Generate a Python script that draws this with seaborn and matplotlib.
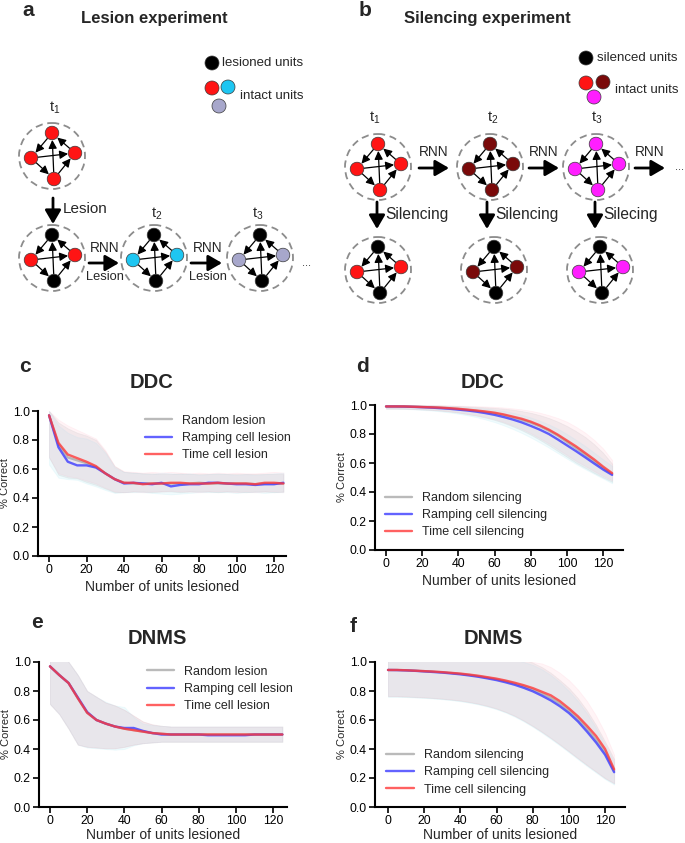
import matplotlib
matplotlib.use('Agg')
import matplotlib.pyplot as plt
from matplotlib.patches import Circle
import seaborn as sns
import pandas as pd

# ---- data ----
units = [0, 5, 10, 15, 20, 25, 30, 35, 40, 45, 50, 55, 60, 65, 70, 75, 80, 85, 90, 95, 100, 105, 110, 115, 120, 125]

# c: DDC, lesion
c_random = [0.97, 0.77, 0.68, 0.66, 0.64, 0.615, 0.57, 0.53, 0.505, 0.50, 0.50, 0.50, 0.50, 0.50, 0.50, 0.50, 0.505, 0.50, 0.50, 0.50, 0.50, 0.50, 0.495, 0.50, 0.50, 0.50]
c_ramping = [0.97, 0.75, 0.65, 0.625, 0.625, 0.61, 0.57, 0.53, 0.50, 0.505, 0.50, 0.495, 0.505, 0.48, 0.49, 0.495, 0.495, 0.505, 0.505, 0.50, 0.495, 0.495, 0.49, 0.495, 0.495, 0.505]
c_time = [0.97, 0.78, 0.70, 0.675, 0.65, 0.62, 0.57, 0.53, 0.505, 0.505, 0.495, 0.50, 0.50, 0.505, 0.505, 0.50, 0.50, 0.50, 0.505, 0.50, 0.50, 0.50, 0.495, 0.505, 0.505, 0.50]
c_random_lo = [0.68, 0.56, 0.54, 0.535, 0.51, 0.49, 0.465, 0.44, 0.44, 0.445, 0.445, 0.44, 0.445, 0.445, 0.44, 0.445, 0.445, 0.445, 0.44, 0.445, 0.445, 0.44, 0.445, 0.445, 0.44, 0.445]
c_random_hi = [1.0, 0.92, 0.88, 0.85, 0.83, 0.80, 0.72, 0.62, 0.58, 0.575, 0.57, 0.57, 0.565, 0.565, 0.57, 0.565, 0.565, 0.565, 0.565, 0.565, 0.565, 0.565, 0.565, 0.565, 0.565, 0.565]
c_ramping_lo = [0.63, 0.54, 0.53, 0.525, 0.50, 0.48, 0.455, 0.435, 0.44, 0.44, 0.44, 0.435, 0.43, 0.425, 0.43, 0.435, 0.44, 0.44, 0.44, 0.44, 0.435, 0.44, 0.44, 0.435, 0.44, 0.44]
c_ramping_hi = [1.0, 0.90, 0.85, 0.82, 0.81, 0.78, 0.71, 0.61, 0.58, 0.575, 0.57, 0.565, 0.575, 0.57, 0.565, 0.57, 0.56, 0.565, 0.57, 0.565, 0.56, 0.565, 0.56, 0.565, 0.57, 0.575]
c_time_lo = [0.68, 0.57, 0.55, 0.54, 0.52, 0.50, 0.47, 0.445, 0.44, 0.445, 0.44, 0.445, 0.445, 0.45, 0.445, 0.445, 0.44, 0.445, 0.445, 0.445, 0.44, 0.445, 0.44, 0.445, 0.445, 0.44]
c_time_hi = [1.0, 0.94, 0.90, 0.87, 0.84, 0.81, 0.73, 0.62, 0.585, 0.58, 0.575, 0.58, 0.575, 0.58, 0.575, 0.57, 0.575, 0.57, 0.575, 0.57, 0.575, 0.57, 0.57, 0.575, 0.58, 0.575]

# d: DDC, silencing
d_random = [0.99, 0.99, 0.99, 0.988, 0.986, 0.984, 0.981, 0.977, 0.972, 0.966, 0.959, 0.951, 0.942, 0.93, 0.915, 0.898, 0.878, 0.853, 0.823, 0.788, 0.745, 0.703, 0.658, 0.612, 0.565, 0.525]
d_ramping = [0.99, 0.99, 0.989, 0.987, 0.985, 0.982, 0.978, 0.974, 0.968, 0.962, 0.954, 0.944, 0.932, 0.917, 0.90, 0.88, 0.856, 0.83, 0.80, 0.762, 0.722, 0.682, 0.64, 0.597, 0.555, 0.518]
d_time = [0.99, 0.99, 0.99, 0.988, 0.986, 0.984, 0.982, 0.978, 0.974, 0.968, 0.962, 0.955, 0.947, 0.935, 0.92, 0.905, 0.885, 0.86, 0.83, 0.795, 0.755, 0.715, 0.67, 0.625, 0.575, 0.53]
d_random_lo = [0.975, 0.975, 0.974, 0.972, 0.969, 0.966, 0.961, 0.955, 0.947, 0.937, 0.926, 0.913, 0.897, 0.877, 0.853, 0.826, 0.795, 0.76, 0.722, 0.682, 0.642, 0.602, 0.567, 0.532, 0.50, 0.47]
d_random_hi = [1.0, 1.0, 1.0, 1.0, 0.999, 0.998, 0.997, 0.995, 0.993, 0.99, 0.987, 0.984, 0.98, 0.975, 0.968, 0.958, 0.946, 0.93, 0.91, 0.885, 0.855, 0.82, 0.78, 0.73, 0.67, 0.595]
d_ramping_lo = [0.975, 0.974, 0.973, 0.97, 0.966, 0.962, 0.956, 0.949, 0.94, 0.929, 0.916, 0.90, 0.882, 0.86, 0.835, 0.807, 0.776, 0.742, 0.706, 0.668, 0.63, 0.593, 0.558, 0.525, 0.493, 0.46]
d_ramping_hi = [1.0, 1.0, 1.0, 0.999, 0.998, 0.997, 0.995, 0.993, 0.99, 0.986, 0.981, 0.975, 0.968, 0.959, 0.947, 0.932, 0.914, 0.892, 0.866, 0.836, 0.80, 0.76, 0.718, 0.672, 0.625, 0.58]
d_time_lo = [0.975, 0.975, 0.975, 0.973, 0.97, 0.967, 0.963, 0.957, 0.95, 0.94, 0.93, 0.918, 0.903, 0.883, 0.86, 0.835, 0.805, 0.77, 0.735, 0.695, 0.655, 0.615, 0.58, 0.545, 0.51, 0.48]
d_time_hi = [1.0, 1.0, 1.0, 1.0, 1.0, 0.999, 0.998, 0.997, 0.996, 0.994, 0.992, 0.99, 0.987, 0.983, 0.977, 0.97, 0.96, 0.947, 0.93, 0.91, 0.885, 0.85, 0.81, 0.76, 0.70, 0.62]

# e: DNMS, lesion
e_random = [0.97, 0.91, 0.855, 0.75, 0.65, 0.60, 0.575, 0.555, 0.54, 0.53, 0.52, 0.51, 0.505, 0.50, 0.50, 0.50, 0.50, 0.50, 0.50, 0.50, 0.50, 0.50, 0.50, 0.50, 0.50, 0.50]
e_ramping = [0.97, 0.91, 0.855, 0.755, 0.655, 0.60, 0.575, 0.555, 0.545, 0.545, 0.525, 0.51, 0.50, 0.50, 0.50, 0.50, 0.50, 0.495, 0.495, 0.495, 0.495, 0.495, 0.50, 0.50, 0.50, 0.50]
e_time = [0.97, 0.91, 0.855, 0.75, 0.65, 0.60, 0.575, 0.555, 0.54, 0.53, 0.52, 0.51, 0.505, 0.50, 0.50, 0.50, 0.50, 0.50, 0.50, 0.50, 0.50, 0.50, 0.50, 0.50, 0.50, 0.50]
e_random_lo = [0.71, 0.64, 0.54, 0.43, 0.415, 0.41, 0.405, 0.405, 0.415, 0.43, 0.44, 0.445, 0.45, 0.45, 0.45, 0.45, 0.45, 0.45, 0.45, 0.45, 0.45, 0.45, 0.45, 0.45, 0.45, 0.45]
e_random_hi = [1.1, 1.1, 1.0, 0.91, 0.80, 0.76, 0.72, 0.70, 0.67, 0.63, 0.59, 0.57, 0.56, 0.555, 0.555, 0.555, 0.555, 0.555, 0.555, 0.555, 0.555, 0.555, 0.555, 0.555, 0.555, 0.555]
e_ramping_lo = [0.71, 0.64, 0.54, 0.43, 0.41, 0.405, 0.40, 0.395, 0.40, 0.425, 0.44, 0.445, 0.45, 0.45, 0.45, 0.45, 0.45, 0.45, 0.45, 0.45, 0.45, 0.45, 0.45, 0.45, 0.45, 0.45]
e_ramping_hi = [1.1, 1.1, 1.0, 0.91, 0.80, 0.76, 0.725, 0.70, 0.69, 0.62, 0.575, 0.565, 0.56, 0.555, 0.555, 0.555, 0.555, 0.555, 0.555, 0.555, 0.555, 0.555, 0.555, 0.555, 0.555, 0.555]
e_time_lo = [0.71, 0.64, 0.54, 0.43, 0.415, 0.41, 0.405, 0.405, 0.415, 0.43, 0.44, 0.445, 0.45, 0.45, 0.45, 0.45, 0.45, 0.45, 0.45, 0.45, 0.45, 0.45, 0.45, 0.45, 0.45, 0.45]
e_time_hi = [1.1, 1.1, 1.0, 0.91, 0.80, 0.76, 0.72, 0.70, 0.67, 0.63, 0.59, 0.57, 0.56, 0.555, 0.555, 0.555, 0.555, 0.555, 0.555, 0.555, 0.555, 0.555, 0.555, 0.555, 0.555, 0.555]

# f: DNMS, silencing
f_random = [0.945, 0.945, 0.943, 0.94, 0.937, 0.933, 0.929, 0.924, 0.918, 0.911, 0.902, 0.892, 0.881, 0.867, 0.851, 0.832, 0.81, 0.783, 0.753, 0.713, 0.665, 0.607, 0.54, 0.465, 0.38, 0.25]
f_ramping = [0.945, 0.944, 0.942, 0.939, 0.935, 0.931, 0.927, 0.921, 0.915, 0.907, 0.898, 0.887, 0.875, 0.86, 0.843, 0.822, 0.798, 0.768, 0.735, 0.695, 0.648, 0.59, 0.52, 0.445, 0.36, 0.24]
f_time = [0.945, 0.945, 0.943, 0.94, 0.937, 0.934, 0.93, 0.925, 0.92, 0.913, 0.905, 0.895, 0.885, 0.872, 0.857, 0.84, 0.82, 0.795, 0.77, 0.73, 0.68, 0.625, 0.56, 0.49, 0.40, 0.26]
f_random_lo = [0.763, 0.763, 0.761, 0.758, 0.755, 0.751, 0.746, 0.74, 0.733, 0.723, 0.711, 0.696, 0.678, 0.655, 0.628, 0.595, 0.558, 0.518, 0.475, 0.43, 0.383, 0.335, 0.288, 0.243, 0.198, 0.162]
f_random_hi = [1.13, 1.13, 1.12, 1.12, 1.12, 1.115, 1.11, 1.105, 1.1, 1.09, 1.08, 1.07, 1.06, 1.05, 1.035, 1.02, 0.995, 0.965, 0.925, 0.875, 0.82, 0.75, 0.665, 0.565, 0.45, 0.33]
f_ramping_lo = [0.76, 0.76, 0.758, 0.755, 0.752, 0.748, 0.743, 0.737, 0.729, 0.719, 0.707, 0.692, 0.674, 0.651, 0.623, 0.59, 0.553, 0.512, 0.469, 0.424, 0.377, 0.329, 0.282, 0.237, 0.192, 0.155]
f_ramping_hi = [1.13, 1.13, 1.12, 1.12, 1.115, 1.11, 1.105, 1.1, 1.09, 1.08, 1.07, 1.06, 1.05, 1.035, 1.02, 1.0, 0.98, 0.95, 0.91, 0.86, 0.80, 0.73, 0.645, 0.545, 0.43, 0.31]
f_time_lo = [0.765, 0.765, 0.763, 0.76, 0.757, 0.753, 0.748, 0.742, 0.735, 0.725, 0.713, 0.698, 0.68, 0.657, 0.63, 0.597, 0.56, 0.52, 0.477, 0.432, 0.385, 0.337, 0.29, 0.245, 0.20, 0.165]
f_time_hi = [1.13, 1.13, 1.12, 1.12, 1.12, 1.115, 1.11, 1.11, 1.1, 1.095, 1.09, 1.08, 1.07, 1.06, 1.045, 1.025, 1.0, 0.99, 0.965, 0.925, 0.875, 0.81, 0.73, 0.63, 0.51, 0.36]

lesion_labels = ["Random lesion", "Ramping cell lesion", "Time cell lesion"]
silencing_labels = ["Random silencing", "Ramping cell silencing", "Time cell silencing"]
line_colors = ["#a9a9a9", "#3c3cff", "#ff3a3a"]
band_colors = ["#a0a0a0", "#8fe2f2", "#ffaac0"]

# ---- style ----
sns.set_style('ticks')
plt.rcParams['font.family'] = ['Liberation Sans', 'DejaVu Sans']
plt.rcParams['mathtext.fontset'] = 'custom'
plt.rcParams['mathtext.rm'] = 'Liberation Sans'
plt.rcParams['mathtext.it'] = 'Liberation Sans'

W, H = 685, 843
fig = plt.figure(figsize=(W / 100, H / 100), dpi=100)

# full-figure canvas in pixel coordinates for schematics and labels
cv = fig.add_axes([0, 0, 1, 1])
cv.set_xlim(0, W)
cv.set_ylim(H, 0)
cv.axis('off')

RED, CYAN, SLATE = "#ff1414", "#1ec6f2", "#a7a7cb"
DRED, MAG, BLK = "#7a0a0a", "#ff1eff", "#000000"
OFFS = {'top': (0, -23), 'left': (-21, 2), 'right': (23, -3), 'bottom': (2, 23)}
EDGES = [('top', 'left'), ('right', 'top'), ('left', 'bottom'),
         ('bottom', 'right'), ('bottom', 'top'), ('left', 'right')]


def node(x, y, c, r=6.8):
    cv.add_patch(Circle((x, y), r, fc=c, ec='#3a3a3a', lw=0.5, zorder=4))


def motif(cx, cy, cols):
    cv.add_patch(Circle((cx, cy), 33, fill=False, ec='#8c8c8c', lw=1.3,
                        ls=(0, (4, 2.6)), zorder=2))
    pos = {k: (cx + dx, cy + dy) for k, (dx, dy) in OFFS.items()}
    for a, b in EDGES:
        cv.annotate('', xy=pos[b], xytext=pos[a],
                    arrowprops=dict(arrowstyle='-|>,head_length=0.5,head_width=0.25',
                                    lw=0.9, color='black', shrinkA=5, shrinkB=5,
                                    mutation_scale=10), zorder=3)
    for k, c in zip(['top', 'left', 'right', 'bottom'], cols):
        node(*pos[k], c)


def big_arrow(x0, y0, x1, y1):
    cv.annotate('', xy=(x1, y1), xytext=(x0, y0),
                arrowprops=dict(arrowstyle='-|>,head_length=0.55,head_width=0.32',
                                lw=2.0, color='black', shrinkA=0, shrinkB=0,
                                mutation_scale=15))


def tlabel(x, y, k):
    cv.text(x, y, r'$\mathregular{t_{%d}}$' % k, fontsize=10.5, ha='center', va='center')


# ---- panel a ----
cv.text(28, 11, 'a', fontsize=15, fontweight='bold', ha='center', va='center')
cv.text(154, 18, 'Lesion experiment', fontsize=12, fontweight='bold', ha='center', va='center')
node(212, 63, BLK, 7)
cv.text(222, 63, 'lesioned units', fontsize=9.5, va='center')
node(212, 88, RED, 7)
node(228, 87, CYAN, 7)
node(219, 106, SLATE, 7)
cv.text(240, 96, 'intact units', fontsize=9.5, va='center')

tlabel(55, 108, 1)
motif(52, 156, [RED, RED, RED, RED])
big_arrow(53, 198, 53, 224)
cv.text(63, 209, 'Lesion', fontsize=11, va='center')
motif(52, 258, [BLK, RED, RED, BLK])
tlabel(157, 214, 2)
motif(154, 258, [BLK, CYAN, CYAN, BLK])
tlabel(258, 214, 3)
motif(260, 258, [BLK, SLATE, SLATE, BLK])
for xa, xb in [(89, 119), (191, 222)]:
    big_arrow(xa, 263, xb, 263)
    cv.text((xa + xb) / 2 + 1, 248, 'RNN', fontsize=9.8, ha='center', va='center')
    cv.text((xa + xb) / 2 + 1, 277, 'Lesion', fontsize=9.3, ha='center', va='center')
cv.text(307, 263, '...', fontsize=8, ha='center', va='center')

# ---- panel b ----
cv.text(365, 11, 'b', fontsize=15, fontweight='bold', ha='center', va='center')
cv.text(487, 18, 'Silencing experiment', fontsize=12, fontweight='bold', ha='center', va='center')
node(586, 58, BLK, 7)
cv.text(597, 58, 'silenced units', fontsize=9.5, va='center')
node(586, 83, RED, 7)
node(603, 82, DRED, 7)
node(594, 97, MAG, 7)
cv.text(615, 90, 'intact units', fontsize=9.5, va='center')

for k, (cx, c, sx, lab) in enumerate([(378, RED, 377, 'Silencing'),
                                      (490, DRED, 487, 'Silencing'),
                                      (596, MAG, 595, 'Silecing')], start=1):
    tlabel(cx - 3 if k == 1 else cx + 3 if k == 2 else cx + 1, 118, k)
    motif(cx, 167, [c, c, c, c])
    big_arrow(sx, 202, sx, 229)
    cv.text(sx + 8, 215, lab, fontsize=11.2, va='center')
    motif(cx + (0 if k == 1 else 4), 270, [BLK, c, c, BLK])
for xa, xb in [(419, 449), (529, 559), (635, 665)]:
    big_arrow(xa, 168, xb, 168)
    cv.text((xa + xb) / 2, 152, 'RNN', fontsize=9.8, ha='center', va='center')
cv.text(680, 167, '...', fontsize=8, ha='center', va='center')


# ---- line panels ----
def line_panel(box, xlim, labels, means, los, his, leg_anchor, letter, letter_xy,
               title, title_xy, xpad=2.5):
    l, t, r, b = box
    ax = fig.add_axes([l / W, 1 - b / H, (r - l) / W, (b - t) / H])
    for lo, hi, bc in zip(los, his, band_colors):
        ax.fill_between(units, lo, hi, color=bc, alpha=0.13, lw=0.6, zorder=1)
    df = pd.DataFrame({
        'units': units * 3,
        'acc': means[0] + means[1] + means[2],
        'cond': [labels[0]] * len(units) + [labels[1]] * len(units) + [labels[2]] * len(units),
    })
    sns.lineplot(data=df, x='units', y='acc', hue='cond', hue_order=labels,
                 palette=dict(zip(labels, line_colors)), errorbar=None,
                 lw=1.7, alpha=0.8, ax=ax, zorder=3)
    ax.set_xlim(*xlim)
    ax.set_ylim(0, 1.0)
    ax.set_xticks([0, 20, 40, 60, 80, 100, 120])
    ax.set_yticks([0, 0.2, 0.4, 0.6, 0.8, 1.0])
    ax.set_yticklabels(['0.0', '0.2', '0.4', '0.6', '0.8', '1.0'])
    for s in ['top', 'right']:
        ax.spines[s].set_visible(False)
    for s in ['left', 'bottom']:
        ax.spines[s].set_linewidth(1.5)
        ax.spines[s].set_color('black')
    ax.tick_params(direction='out', length=4, width=1.2, labelsize=8.8, pad=2, colors='black')
    ax.set_xlabel('Number of units lesioned', fontsize=10, labelpad=xpad)
    ax.set_ylabel('% Correct', fontsize=8)
    ax.yaxis.set_label_coords(-0.112, 0.5)
    ax.set_facecolor('none')
    handles, labs = ax.get_legend_handles_labels()
    leg = ax.legend(handles, labs, loc='upper left', bbox_to_anchor=leg_anchor,
                    frameon=False, fontsize=9, handlelength=2.2, handletextpad=0.8,
                    labelspacing=0.42, borderpad=0, borderaxespad=0)
    for ln in leg.get_lines():
        ln.set_linewidth(1.7)
    cv.text(*letter_xy, letter, fontsize=15, fontweight='bold', ha='center', va='center')
    cv.text(*title_xy, title, fontsize=14.5, fontweight='bold', ha='center', va='center')
    return ax


line_panel((38, 411, 286, 556), (-5.9, 126.4), lesion_labels,
           [c_random, c_ramping, c_time], [c_random_lo, c_ramping_lo, c_time_lo],
           [c_random_hi, c_ramping_hi, c_time_hi], (0.43, 0.975), 'c', (25, 367), 'DDC', (152, 383))
line_panel((375, 405, 623, 550), (-6.1, 131), silencing_labels,
           [d_random, d_ramping, d_time], [d_random_lo, d_ramping_lo, d_time_lo],
           [d_random_hi, d_ramping_hi, d_time_hi], (0.04, 0.40), 'd', (363, 366), 'DDC', (483, 382))
line_panel((39, 662, 287, 807), (-5.9, 127.5), lesion_labels,
           [e_random, e_ramping, e_time], [e_random_lo, e_ramping_lo, e_time_lo],
           [e_random_hi, e_ramping_hi, e_time_hi], (0.435, 0.975), 'e', (37, 623), 'DNMS', (157, 638),
           xpad=0.5)
line_panel((375, 662, 625, 807), (-7.2, 131), silencing_labels,
           [f_random, f_ramping, f_time], [f_random_lo, f_ramping_lo, f_time_lo],
           [f_random_hi, f_ramping_hi, f_time_hi], (0.044, 0.40), 'f', (353, 627), 'DNMS', (493, 639),
           xpad=0.5)

fig.savefig('out.png', dpi=100, facecolor='white')
